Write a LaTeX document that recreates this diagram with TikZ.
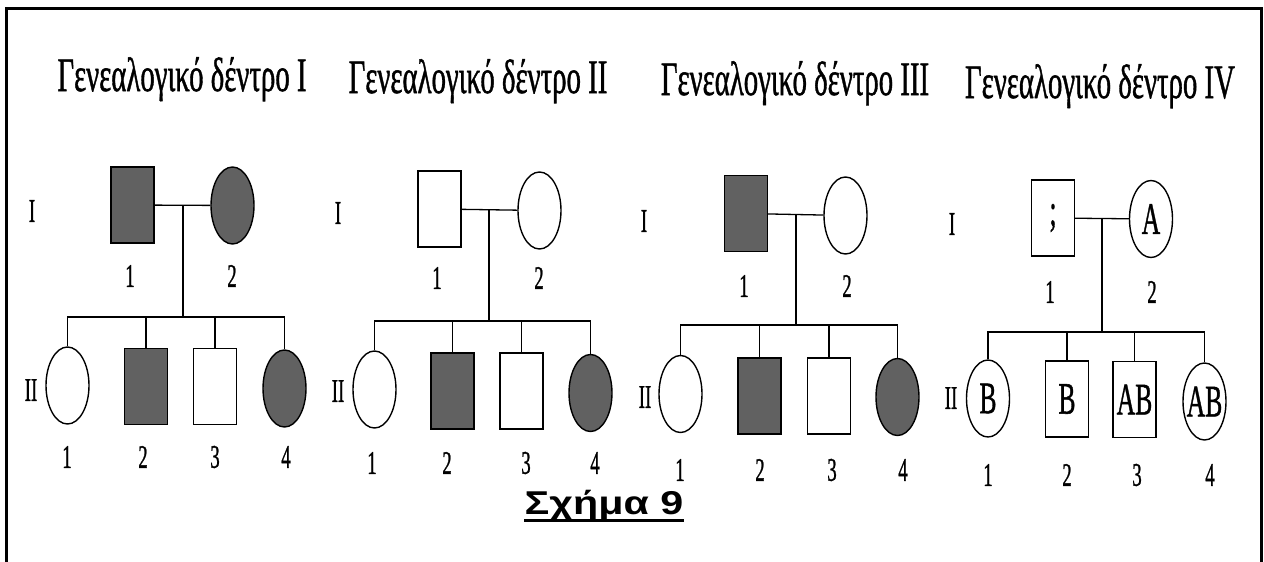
\documentclass[tikz,border=0pt]{standalone}
\usepackage{fontspec}
\setmainfont{Liberation Serif}[FakeBold=1.2]
\newfontfamily\captionfont{Liberation Sans}
\usepackage{graphicx}
\usetikzlibrary{shapes.geometric}

\newcommand{\squeezed}[1]{\scalebox{0.57}[1]{#1}}
\newcommand{\inside}[1]{\makebox[0pt]{\squeezed{#1}}}

\tikzset{
  male/.style={rectangle, draw, line width=1.4pt, minimum width=43pt, minimum height=76pt, inner sep=0pt, font=\fontsize{45}{47}\selectfont},
  female/.style={ellipse, draw, line width=1.4pt, minimum width=43pt, minimum height=77pt, inner sep=0pt, font=\fontsize{45}{47}\selectfont},
  ill/.style={fill=black!62},
  heading/.style={inner sep=0pt, anchor=base, font=\fontsize{48}{50}\selectfont},
  numlabel/.style={inner sep=0pt, font=\fontsize{33}{35}\selectfont},
  link/.style={line width=1.3pt}
}

\begin{document}
\begin{tikzpicture}[x=1pt, y=-1pt]
  \useasboundingbox (0,0) rectangle (1264,562);
  % Frame
  \draw[line width=3pt] (6.5,562) -- (6.5,8) -- (1261.5,8) -- (1261.5,562);

  % Tree I
  \node[heading] (g1title) at (182,91) {\scalebox{0.6}[1]{Γενεαλογικό δέντρο I}};
  \node[male, ill] (g1f) at (132.5,205) {};
  \node[female, ill] (g1m) at (232.5,205.5) {};
  \node[female] (g1c1) at (67.5,385.5) {};
  \node[male, ill] (g1c2) at (146,386.5) {};
  \node[male] (g1c3) at (215,386.5) {};
  \node[female, ill] (g1c4) at (284.5,388.5) {};
  \coordinate (g1j) at (183,205);
  \coordinate (g1s) at (183,317);
  \node[numlabel] (g1gI) at (32,211) {\squeezed{I}};
  \node[numlabel] (g1gII) at (31,390) {\squeezed{II}};
  \node[numlabel] (g1l1) at (130,276) {\squeezed{1}};
  \node[numlabel] (g1l2) at (232,276) {\squeezed{2}};
  \node[numlabel] (g1k1) at (67,457) {\squeezed{1}};
  \node[numlabel] (g1k2) at (143,457) {\squeezed{2}};
  \node[numlabel] (g1k3) at (215,457) {\squeezed{3}};
  \node[numlabel] (g1k4) at (286,457) {\squeezed{4}};

  % Tree II
  \node[heading] (g2title) at (478,93) {\scalebox{0.6}[1]{Γενεαλογικό δέντρο II}};
  \node[male] (g2f) at (439.5,209) {};
  \node[female] (g2m) at (539.5,210.5) {};
  \node[female] (g2c1) at (374.5,389.5) {};
  \node[male, ill] (g2c2) at (452.5,391) {};
  \node[male] (g2c3) at (521.5,391) {};
  \node[female, ill] (g2c4) at (590.5,393) {};
  \coordinate (g2j) at (489,210);
  \coordinate (g2s) at (489,321);
  \node[numlabel] (g2gI) at (338,213) {\squeezed{I}};
  \node[numlabel] (g2gII) at (338,391) {\squeezed{II}};
  \node[numlabel] (g2l1) at (437,278) {\squeezed{1}};
  \node[numlabel] (g2l2) at (539,278) {\squeezed{2}};
  \node[numlabel] (g2k1) at (372,463) {\squeezed{1}};
  \node[numlabel] (g2k2) at (447,463) {\squeezed{2}};
  \node[numlabel] (g2k3) at (526,463) {\squeezed{3}};
  \node[numlabel] (g2k4) at (595,463) {\squeezed{4}};

  % Tree III
  \node[heading] (g3title) at (795,95) {\scalebox{0.6}[1]{Γενεαλογικό δέντρο III}};
  \node[male, ill] (g3f) at (746,213.5) {};
  \node[female] (g3m) at (845.5,215.5) {};
  \node[female] (g3c1) at (680.5,394) {};
  \node[male, ill] (g3c2) at (759.5,396) {};
  \node[male] (g3c3) at (829,396) {};
  \node[female, ill] (g3c4) at (897.5,397) {};
  \coordinate (g3j) at (796,214);
  \coordinate (g3s) at (796,325);
  \node[numlabel] (g3gI) at (644,221) {\squeezed{I}};
  \node[numlabel] (g3gII) at (645,397) {\squeezed{II}};
  \node[numlabel] (g3l1) at (744,286) {\squeezed{1}};
  \node[numlabel] (g3l2) at (847,286) {\squeezed{2}};
  \node[numlabel] (g3k1) at (680,470) {\squeezed{1}};
  \node[numlabel] (g3k2) at (760,470) {\squeezed{2}};
  \node[numlabel] (g3k3) at (832,470) {\squeezed{3}};
  \node[numlabel] (g3k4) at (903,470) {\squeezed{4}};

  % Tree IV
  \node[heading] (g4title) at (1100,98) {\scalebox{0.6}[1]{Γενεαλογικό δέντρο IV}};
  \node[male] (g4f) at (1053,218) {\inside{;}};
  \node[female] (g4m) at (1151,219) {\inside{A}};
  \node[female] (g4c1) at (988,398.5) {\inside{B}};
  \node[male] (g4c2) at (1067,399) {\inside{B}};
  \node[male] (g4c3) at (1134.5,399.5) {\inside{AB}};
  \node[female] (g4c4) at (1204.5,401.5) {\inside{AB}};
  \coordinate (g4j) at (1102,219);
  \coordinate (g4s) at (1102,332);
  \node[numlabel] (g4gI) at (952,224) {\squeezed{I}};
  \node[numlabel] (g4gII) at (951,398) {\squeezed{II}};
  \node[numlabel] (g4l1) at (1050,292) {\squeezed{1}};
  \node[numlabel] (g4l2) at (1152,292) {\squeezed{2}};
  \node[numlabel] (g4k1) at (988,475) {\squeezed{1}};
  \node[numlabel] (g4k2) at (1067,475) {\squeezed{2}};
  \node[numlabel] (g4k3) at (1137,475) {\squeezed{3}};
  \node[numlabel] (g4k4) at (1210,475) {\squeezed{4}};

  % Lines
  \draw[link] (g1f) -- (g1m);
  \draw[link] (g1j) -- (g1s);
  \draw[link] (g1c1) |- (g1s) -| (g1c4);
  \draw[link] (g1c2) -- (g1c2 |- g1s);
  \draw[link] (g1c3) -- (g1c3 |- g1s);

  \draw[link] (g2f) -- (g2m);
  \draw[link] (g2j) -- (g2s);
  \draw[link] (g2c1) |- (g2s) -| (g2c4);
  \draw[link] (g2c2) -- (g2c2 |- g2s);
  \draw[link] (g2c3) -- (g2c3 |- g2s);

  \draw[link] (g3f) -- (g3m);
  \draw[link] (g3j) -- (g3s);
  \draw[link] (g3c1) |- (g3s) -| (g3c4);
  \draw[link] (g3c2) -- (g3c2 |- g3s);
  \draw[link] (g3c3) -- (g3c3 |- g3s);

  \draw[link] (g4f) -- (g4m);
  \draw[link] (g4j) -- (g4s);
  \draw[link] (g4c1) |- (g4s) -| (g4c4);
  \draw[link] (g4c2) -- (g4c2 |- g4s);
  \draw[link] (g4c3) -- (g4c3 |- g4s);

  % Caption
  \node[inner sep=0pt, anchor=base, font=\captionfont\bfseries\fontsize{33}{35}\selectfont] (fig) at (604,514) {\scalebox{1.25}[1]{Σχήμα 9}};
  \draw[line width=3pt] ([yshift=-6pt]fig.base west) -- ([yshift=-6pt]fig.base east);
\end{tikzpicture}
\end{document}
